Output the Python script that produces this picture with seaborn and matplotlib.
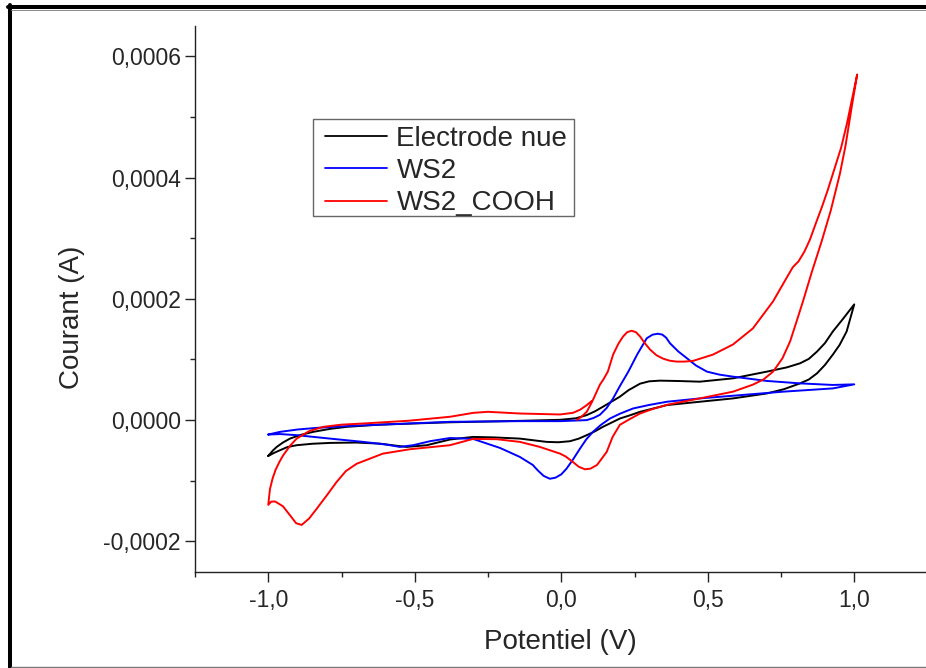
import matplotlib
matplotlib.use("Agg")
import matplotlib.pyplot as plt
from matplotlib.lines import Line2D
from matplotlib.patches import Rectangle
from matplotlib.ticker import FuncFormatter, MultipleLocator
import numpy as np
import pandas as pd
import seaborn as sns

# ---------------------------------------------------------------------------
# Data (potential in V, current in microamps)
# ---------------------------------------------------------------------------

series_names = ["Electrode nue", "WS2", "WS2_COOH"]
series_colors = ["#000000", "#0000FF", "#FF0000"]

nue_potential = [
    -1.0, -0.985, -0.971, -0.950, -0.926, -0.890, -0.847, -0.790, -0.732,
    -0.620, -0.506, -0.380, -0.141, -0.004, 0.050,
    0.087, 0.115, 0.142, 0.170, 0.200, 0.230, 0.269, 0.300, 0.337, 0.400,
    0.473, 0.586, 0.702, 0.770, 0.815, 0.845, 0.873, 0.900, 0.927, 0.960,
    1.0,
    0.974, 0.950, 0.927, 0.900, 0.873, 0.845, 0.815, 0.760, 0.702, 0.586,
    0.473, 0.361, 0.269, 0.235, 0.200, 0.170, 0.142, 0.115, 0.087, 0.060,
    0.030, -0.010, -0.050, -0.141, -0.230, -0.301, -0.380, -0.459, -0.528,
    -0.575, -0.619, -0.700, -0.789, -0.850, -0.903, -0.935, -0.960, -0.980,
    -1.0,
]
nue_current_ua = [
    -59.1, -50.5, -44.2, -37.0, -30.5, -24.5, -19.4, -14.5, -11.1,
    -7.5, -5.6, -3.6, -1.2, 0.5, 3.0,
    8.3, 14.5, 22.0, 30.0, 38.6, 49.5, 60.1, 64.0, 65.1, 64.5,
    63.4, 68.9, 80.0, 87.0, 93.7, 101.0, 113.1, 127.0, 146.2, 166.0,
    190.9,
    146.2, 124.0, 108.1, 91.0, 77.2, 67.0, 60.6, 51.0, 44.0, 35.8,
    30.3, 24.8, 13.7, 8.0, 2.6, -4.5, -11.1, -18.5, -24.8, -30.5,
    -34.8, -36.5, -35.9, -30.5, -28.5, -27.7, -32.0, -41.4, -44.2,
    -41.5, -38.8, -37.0, -37.6, -39.0, -41.4, -44.5, -49.7, -54.0,
    -59.1,
]

ws2_potential = [
    -1.0, -0.960, -0.900, -0.835, -0.720, -0.609, -0.380, -0.141, -0.004,
    0.087, 0.110, 0.132, 0.155, 0.177, 0.200, 0.229, 0.260, 0.292, 0.312,
    0.330, 0.345, 0.358, 0.371, 0.400, 0.429, 0.460, 0.497, 0.540, 0.586,
    0.702, 0.815, 0.927, 1.0,
    0.927, 0.757, 0.586, 0.473, 0.361, 0.300, 0.245, 0.200, 0.166, 0.135,
    0.108, 0.085, 0.064, 0.040, 0.018, 0.000, -0.020, -0.039, -0.060,
    -0.080, -0.097, -0.141, -0.209, -0.301, -0.380, -0.448, -0.506, -0.551,
    -0.596, -0.676, -0.789, -0.903, -0.960, -1.0,
]
ws2_current_ua = [
    -23.8, -19.4, -15.5, -12.8, -9.5, -7.3, -2.8, -1.7, -1.7,
    0.0, 3.5, 8.8, 20.0, 35.8, 56.0, 80.0, 109.0, 135.1, 141.0,
    142.5, 141.0, 136.0, 126.8, 113.0, 102.0, 90.0, 80.0, 75.0, 71.7,
    64.6, 60.6, 58.0, 59.0,
    52.3, 46.9, 40.2, 35.8, 30.3, 25.0, 19.2, 10.5, 2.6, -8.0,
    -19.4, -32.0, -47.0, -65.0, -80.1, -89.5, -95.0, -96.7, -92.0,
    -83.0, -74.0, -60.8, -45.9, -31.0, -29.5, -34.8, -41.4, -44.2,
    -40.4, -35.9, -30.5, -24.8, -23.0, -23.8,
]

cooh_potential = [
    0.054, 0.070, 0.087, 0.105, 0.121, 0.132, 0.145, 0.159, 0.177, 0.195,
    0.211, 0.225, 0.240, 0.255, 0.269, 0.285, 0.303, 0.325, 0.347, 0.370,
    0.394, 0.420, 0.450, 0.518, 0.586, 0.654, 0.723, 0.760, 0.790, 0.810,
    0.830, 0.849, 0.870, 0.890, 0.910, 0.927, 0.955, 0.975, 1.01,
    0.991, 0.970, 0.951, 0.920, 0.889, 0.855, 0.825, 0.800, 0.781, 0.755,
    0.723, 0.690, 0.654, 0.586, 0.473, 0.361, 0.310, 0.269, 0.235, 0.200,
    0.175, 0.155, 0.122, 0.100, 0.081, 0.060, 0.040, 0.015, -0.004,
    -0.073, -0.141, -0.220, -0.301, -0.380, -0.516, -0.609, -0.698, -0.735,
    -0.767, -0.800, -0.835, -0.860, -0.886, -0.905, -0.926, -0.950, -0.977,
    -0.990, -1.0,
    -0.997, -0.994, -0.985, -0.975, -0.962, -0.949, -0.925, -0.903, -0.860,
    -0.812, -0.750, -0.676, -0.520, -0.380, -0.300, -0.250, -0.141, -0.004,
    0.040, 0.064, 0.085, 0.104,
]
cooh_current_ua = [
    0.5, 6.0, 13.7, 30.0, 46.9, 58.5, 68.0, 80.0, 108.1, 126.0,
    137.9, 145.0, 147.4, 145.0, 137.9, 127.0, 116.4, 107.0, 101.5, 98.0,
    96.5, 96.5, 97.7, 108.1, 124.7, 151.2, 195.9, 227.0, 252.0, 262.0,
    278.0, 298.0, 326.0, 352.0, 380.0, 406.2, 449.0, 489.0, 570.1,
    515.5, 452.0, 406.2, 346.0, 295.3, 244.0, 195.9, 158.0, 129.7, 102.0,
    80.0, 67.0, 58.5, 46.9, 35.8, 25.3, 18.0, 10.9, 2.0, -7.8,
    -28.0, -52.5, -74.0, -80.0, -81.1, -77.0, -69.1, -60.0, -55.3,
    -44.2, -35.9, -31.5, -31.0, -41.4, -48.0, -55.3, -71.9, -84.0,
    -102.2, -124.0, -146.4, -162.0, -172.9, -170.0, -156.8, -142.0, -134.1,
    -134.5, -139.8,
    -126.0, -113.3, -96.0, -82.0, -69.0, -58.0, -42.0, -30.5, -18.0,
    -11.1, -7.5, -5.6, -1.0, 5.5, 12.0, 13.7, 10.9, 9.3,
    12.0, 17.1, 24.0, 31.5,
]

x_ticks = [-1.0, -0.5, 0.0, 0.5, 1.0]
y_ticks = [-0.0002, 0.0, 0.0002, 0.0004, 0.0006]

# ---------------------------------------------------------------------------
# Build long table
# ---------------------------------------------------------------------------

frames = []
for name, pot, cur in zip(
    series_names,
    [nue_potential, ws2_potential, cooh_potential],
    [nue_current_ua, ws2_current_ua, cooh_current_ua],
):
    frames.append(pd.DataFrame({
        "Potentiel": pot,
        "Courant": np.array(cur) * 1e-6,
        "serie": name,
    }))
df = pd.concat(frames, ignore_index=True)

# ---------------------------------------------------------------------------
# Plot
# ---------------------------------------------------------------------------

sns.set_style("ticks")
plt.rcParams["font.family"] = ["Liberation Sans", "DejaVu Sans"]

fig = plt.figure(figsize=(9.26, 6.68), dpi=100)
ax = fig.add_axes([195 / 926, 96.3 / 668, 732.5 / 926, 545.7 / 668])

sns.lineplot(
    data=df, x="Potentiel", y="Courant", hue="serie",
    hue_order=series_names, palette=series_colors,
    sort=False, estimator=None, linewidth=1.4, ax=ax,
)
for line in ax.get_lines():
    line.set_solid_joinstyle("round")

ax.set_xlim(-1.25, 1.25)
ax.set_ylim(-0.00025, 0.00065)
ax.set_xticks(x_ticks)
ax.set_yticks(y_ticks)
ax.xaxis.set_minor_locator(MultipleLocator(0.25))
ax.yaxis.set_minor_locator(MultipleLocator(0.0001))
ax.xaxis.set_major_formatter(FuncFormatter(lambda v, p: f"{v:.1f}".replace(".", ",")))
ax.yaxis.set_major_formatter(FuncFormatter(lambda v, p: f"{v:.4f}".replace(".", ",")))

for side in ["top", "right"]:
    ax.spines[side].set_visible(False)
for side in ["left", "bottom"]:
    ax.spines[side].set_linewidth(1.0)
    ax.spines[side].set_color("#222222")

ax.tick_params(which="major", direction="out", length=7.2, width=1.0,
               labelsize=16.5, pad=3, color="#222222")
ax.tick_params(axis="x", which="major", pad=5)
ax.tick_params(which="minor", direction="out", length=3.6, width=1.0, color="#222222")

ax.set_xlabel("")
ax.set_ylabel("")
fig.text(560 / 926, 1 - 642 / 668, "Potentiel (V)", fontsize=20,
         ha="center", va="center")
fig.text(72 / 926, 1 - 317 / 668, "Courant (A)", fontsize=20,
         ha="center", va="center", rotation=90)

# legend without its own frame; the box is drawn separately
handles, labels = ax.get_legend_handles_labels()
leg = ax.legend(
    handles, labels, loc="upper left",
    bbox_to_anchor=(325 / 926, 1 - 126 / 668), bbox_transform=fig.transFigure,
    borderaxespad=0, borderpad=0, fontsize=20, frameon=False,
    handlelength=2.23, handletextpad=0.34, labelspacing=0.22,
)
for line in leg.get_lines():
    line.set_linewidth(1.3)
fig.add_artist(Rectangle((313.3 / 926, 1 - 216 / 668), (574 - 313.3) / 926,
                         (216 - 119.3) / 668, transform=fig.transFigure,
                         fill=False, edgecolor="#666666", lw=1.0))

# outer frame like the original figure border
fig.add_artist(Line2D([9.5 / 926, 9.5 / 926], [1 - 5 / 668, 0],
                      transform=fig.transFigure, color="black", lw=2.9))
fig.add_artist(Line2D([7.5 / 926, 1], [1 - 7 / 668, 1 - 7 / 668],
                      transform=fig.transFigure, color="black", lw=2.9))
fig.add_artist(Line2D([11 / 926, 1], [1 - 10 / 668, 1 - 10 / 668],
                      transform=fig.transFigure, color="#888888", lw=0.7))
fig.add_artist(Line2D([11 / 926, 1], [1 / 668, 1 / 668],
                      transform=fig.transFigure, color="#777777", lw=1.0))

fig.savefig("out.png", dpi=100)
plt.close(fig)
